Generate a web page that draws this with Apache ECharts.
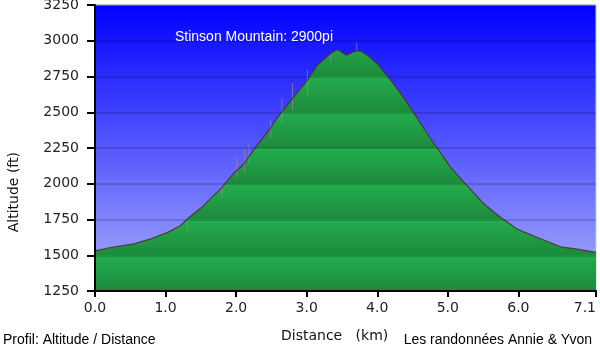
<!DOCTYPE html>
<html>
<head>
<meta charset="utf-8">
<script src="https://cdn.jsdelivr.net/npm/echarts@6/dist/echarts.min.js"></script>
<style>
    html, body { margin: 0; padding: 0; background: #fff; }
    #chart { width: 600px; height: 354px; }
</style>
</head>
<body>
<div id="chart"></div>
<script>
    // profil: distance (km) / altitude (ft)
    const distKm = [0, 0.22, 0.55, 0.79, 1.03, 1.21, 1.31, 1.50, 1.80, 1.96, 2.11, 2.30, 2.49, 2.58, 2.80, 3.01, 3.15, 3.34, 3.44, 3.56, 3.66, 3.76, 3.86, 4.00, 4.19, 4.37, 4.51, 4.75, 5.04, 5.23, 5.51, 5.75, 5.98, 6.27, 6.60, 6.83, 7.10];
    const altFt = [1531, 1554, 1580, 1615, 1660, 1706, 1755, 1830, 1975, 2070, 2140, 2270, 2390, 2460, 2597, 2724, 2829, 2913, 2939, 2899, 2922, 2930, 2899, 2840, 2724, 2606, 2501, 2320, 2115, 2010, 1860, 1764, 1683, 1624, 1559, 1543, 1520];

    // petits pics GPS (traits gris verticaux)
    const spikeKm = [1.31, 1.80, 2.01, 2.12, 2.18, 2.49, 2.65, 2.80, 3.01, 3.34, 3.71];
    const spikeLow = [1671, 1903, 2043, 2071, 2141, 2317, 2422, 2513, 2604, 2850, 2913];
    const spikeHigh = [1860, 2001, 2183, 2246, 2282, 2443, 2597, 2703, 2794, 2899, 2983];

    const xTickValues = [0, 1, 2, 3, 4, 5, 6, 7.1];
    const yMin = 1250, yMax = 3250, yStep = 250;

    const W = 600, H = 354;
    const gridTop = 5, gridBottom = 63, gridLeft = 95, gridRight = 4;

    let chart = echarts.init(document.getElementById('chart'));

    // vert en bandes (clair en haut de chaque bande, foncé en bas)
    let nBands = (yMax - yMin) / yStep;
    let greenStops = [];
    for (let k = 0; k < nBands; k++) {
        greenStops.push({offset: k / nBands, color: '#24ad4e'});
        greenStops.push({offset: (k + 1) / nBands - 0.002, color: '#1c8b3c'});
    }

    let options = {
        animation: false,
        grid: {
            left: gridLeft,
            right: gridRight,
            top: gridTop,
            bottom: gridBottom,
            outerBoundsMode: 'none',
            containLabel: false,
            show: true,
            borderColor: '#b8d4c4',
            borderWidth: 1,
            backgroundColor: {
                type: 'linear', x: 0, y: 0, x2: 0, y2: 1,
                colorStops: [
                    {offset: 0, color: '#0000ff'},
                    {offset: 1, color: '#aab0fa'}
                ]
            }
        },
        graphic: [
            {
                type: 'text', left: 175, top: 30, z: 20,
                style: {text: 'Stinson Mountain: 2900pi', fill: '#fff', font: '14px "Liberation Sans", Arial, sans-serif'}
            },
            {
                type: 'text', left: 281, top: 329, z: 20,
                style: {text: 'Distance   (km)', fill: '#111', font: '14px "DejaVu Sans", Verdana, sans-serif'}
            },
            {
                type: 'text', left: 7, top: 152, rotation: Math.PI / 2, z: 20,
                style: {text: 'Altitude (ft)', fill: '#111', font: '14px "DejaVu Sans", Verdana, sans-serif',
                    align: 'center', verticalAlign: 'middle'}
            },
            {
                type: 'text', left: 3, top: 333, z: 20,
                style: {text: 'Profil: Altitude / Distance', fill: '#000', font: '14px "Liberation Sans", Arial, sans-serif'}
            },
            {
                type: 'text', right: 8, top: 333, z: 20,
                style: {text: 'Les randonnées Annie & Yvon', fill: '#000', font: '14px "Liberation Sans", Arial, sans-serif'}
            }
        ],
        xAxis: {
            type: 'value',
            min: 0,
            max: 7.1,
            z: 10,
            axisLine: {show: true, onZero: false, lineStyle: {color: '#000', width: 2}},
            axisTick: {show: true, length: 6, customValues: xTickValues, lineStyle: {color: '#000', width: 2}},
            splitLine: {show: false},
            axisLabel: {
                customValues: xTickValues,
                alignMaxLabel: 'right',
                margin: 10,
                color: '#222',
                fontFamily: '"DejaVu Sans", Verdana, sans-serif',
                fontSize: 14,
                formatter: function (v) {
                    return v.toFixed(1);
                }
            }
        },
        yAxis: {
            type: 'value',
            min: yMin,
            max: yMax,
            interval: yStep,
            z: 10,
            axisLine: {show: true, lineStyle: {color: '#000', width: 2}},
            axisTick: {show: true, length: 8, lineStyle: {color: '#000', width: 2}},
            splitLine: {show: true, lineStyle: {color: 'rgba(0,0,0,0.2)', width: 1.5}},
            axisLabel: {
                margin: 16,
                color: '#222',
                fontFamily: '"DejaVu Sans", Verdana, sans-serif',
                fontSize: 14,
                formatter: function (v) {
                    return String(v);
                }
            }
        },
        series: [
            {
                name: 'profil',
                type: 'line',
                symbol: 'none',
                data: distKm.map((d, i) => [d, altFt[i]]),
                lineStyle: {color: 'rgba(80,45,45,0.85)', width: 1.2},
                areaStyle: {
                    origin: 'start',
                    opacity: 1,
                    color: {
                        type: 'linear', x: 0, y: gridTop, x2: 0, y2: H - gridBottom, global: true,
                        colorStops: greenStops
                    }
                }
            },
            {
                name: 'pics',
                type: 'custom',
                z: 3,
                data: spikeKm.map((d, i) => [d, spikeLow[i], spikeHigh[i]]),
                renderItem: function (params, api) {
                    let p1 = api.coord([api.value(0), api.value(1)]);
                    let p2 = api.coord([api.value(0), api.value(2)]);
                    return {
                        type: 'line',
                        shape: {x1: p1[0], y1: p1[1], x2: p2[0], y2: p2[1]},
                        style: {stroke: 'rgba(150,140,150,0.7)', lineWidth: 1}
                    };
                }
            }
        ]
    };
    chart.setOption(options);

    window.addEventListener('resize', () => {
        chart.resize();
    });
</script>
</body>
</html>
